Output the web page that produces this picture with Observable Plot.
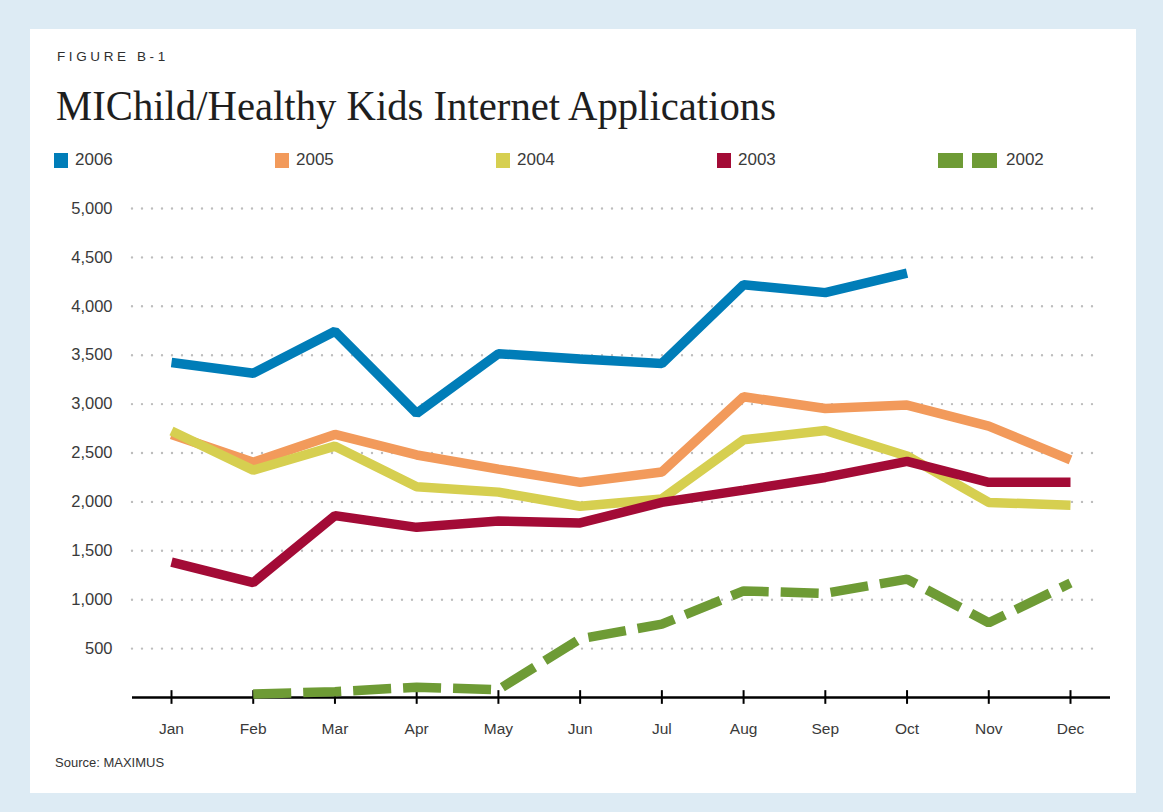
<!DOCTYPE html>
<html>
<head>
<meta charset="utf-8">
<script src="https://cdn.jsdelivr.net/npm/d3@7"></script>
<script src="https://cdn.jsdelivr.net/npm/@observablehq/plot@0.6"></script>
<style>
  html, body { margin: 0; padding: 0; }
  body { width: 1163px; height: 812px; background: #DDEBF4; position: relative; overflow: hidden; font-family: "Liberation Sans", Arial, sans-serif; }
  #panel { position: absolute; left: 29.5px; top: 29px; width: 1106.5px; height: 764px; background: #fff; }
  .abs { position: absolute; white-space: nowrap; }
  #fig { left: 57px; top: 49px; font-size: 13.5px; letter-spacing: 3.6px; color: #2e2e2e; }
  #title { left: 56px; top: 82px; font-family: "Liberation Serif", serif; font-size: 42px; color: #1e1e1e; transform-origin: 0 0; }
  .leg { top: 150px; font-size: 17px; color: #3a3a3a; height: 20px; line-height: 20px; }
  .sw { position: absolute; top: 2.5px; width: 14px; height: 15px; }
  #source { left: 55px; top: 755px; font-size: 13px; color: #333; }
  #chart { position: absolute; left: 0; top: 190px; }
</style>
</head>
<body>
<div id="panel"></div>
<div class="abs" id="fig">FIGURE B-1</div>
<div class="abs" id="title">MIChild/Healthy Kids Internet Applications</div>
<div id="legend"></div>
<div id="chart"></div>
<div class="abs" id="source">Source: MAXIMUS</div>
<script>
const months = ["Jan","Feb","Mar","Apr","May","Jun","Jul","Aug","Sep","Oct","Nov","Dec"];
const seriesNames = ["2006","2005","2004","2003","2002"];
const seriesColors = ["#007DB8","#F29A5B","#D6CF50","#A30B36","#6E9B35"];
const s2006 = [3425, 3315, 3745, 2905, 3515, 3460, 3415, 4220, 4140, 4340, null, null];
const s2005 = [2690, 2405, 2690, 2480, 2335, 2200, 2305, 3075, 2955, 2990, 2775, 2430];
const s2004 = [2725, 2325, 2570, 2155, 2100, 1955, 2030, 2635, 2730, 2470, 1995, 1965];
const s2003 = [1385, 1175, 1860, 1740, 1805, 1785, 1995, 2120, 2250, 2415, 2200, 2200];
const s2002 = [null, 35, 60, 105, 80, 600, 750, 1090, 1065, 1210, 765, 1170];
const yTicks = [500, 1000, 1500, 2000, 2500, 3000, 3500, 4000, 4500, 5000];

const values = {"2006": s2006, "2005": s2005, "2004": s2004, "2003": s2003, "2002": s2002};
const color = Object.fromEntries(seriesNames.map((s, i) => [s, seriesColors[i]]));
const rows = s => months.map((m, i) => ({month: m, value: values[s][i]})).filter(d => d.value != null);

// legend
const legend = document.getElementById("legend");
seriesNames.forEach((s, i) => {
  const left = 54 + i * 221;
  const item = document.createElement("div");
  item.className = "abs leg";
  item.style.left = left + "px";
  if (s === "2002") {
    item.innerHTML = `<span class="sw" style="left:0;width:25px;background:${color[s]}"></span>` +
      `<span class="sw" style="left:34px;width:25px;background:${color[s]}"></span>` +
      `<span style="position:absolute;left:68px">${s}</span>`;
  } else {
    item.innerHTML = `<span class="sw" style="left:0;background:${color[s]}"></span>` +
      `<span style="position:absolute;left:21px">${s}</span>`;
  }
  legend.appendChild(item);
});

const lineOpts = s => ({x: "month", y: "value", stroke: color[s], strokeWidth: 9.5,
  strokeLinejoin: "miter", strokeLinecap: "butt"});

const chart = Plot.plot({
  width: 1163,
  height: 560,
  marginLeft: 132,
  marginRight: 53,
  marginTop: 18,
  marginBottom: 53,
  x: {type: "point", domain: months, range: [171, 1070], padding: 0, round: false},
  y: {domain: [0, 5000]},
  style: {background: "transparent", fontFamily: "Liberation Sans, Arial, sans-serif", fontSize: "16px", color: "#3a3a3a"},
  marks: [
    Plot.ruleY(yTicks, {stroke: "#bdbdbd", strokeWidth: 2.4, strokeDasharray: "0,10", strokeLinecap: "round", insetRight: 10}),
    Plot.axisY(yTicks, {tickSize: 0, tickPadding: 20, tickFormat: d3.format(","), label: null, fontSize: 16.5}),
    Plot.axisX({tickSize: 0, tickPadding: 25, label: null, fontSize: 15.5}),
    Plot.ruleY([0], {stroke: "#000", strokeWidth: 2.5}),
    Plot.ruleX(months, {x: d => d, y1: -70, y2: 70, stroke: "#000", strokeWidth: 2}),
    Plot.line(rows("2005"), lineOpts("2005")),
    Plot.line(rows("2004"), lineOpts("2004")),
    Plot.line(rows("2003"), lineOpts("2003")),
    Plot.line(rows("2006"), lineOpts("2006")),
    Plot.line(rows("2002"), {...lineOpts("2002"), strokeDasharray: "38,12"})
  ]
});
document.getElementById("chart").appendChild(chart);

// fit title width to reference span
const t = document.getElementById("title");
const w = t.getBoundingClientRect().width;
t.style.transform = `scaleX(${720 / w})`;
</script>
</body>
</html>
